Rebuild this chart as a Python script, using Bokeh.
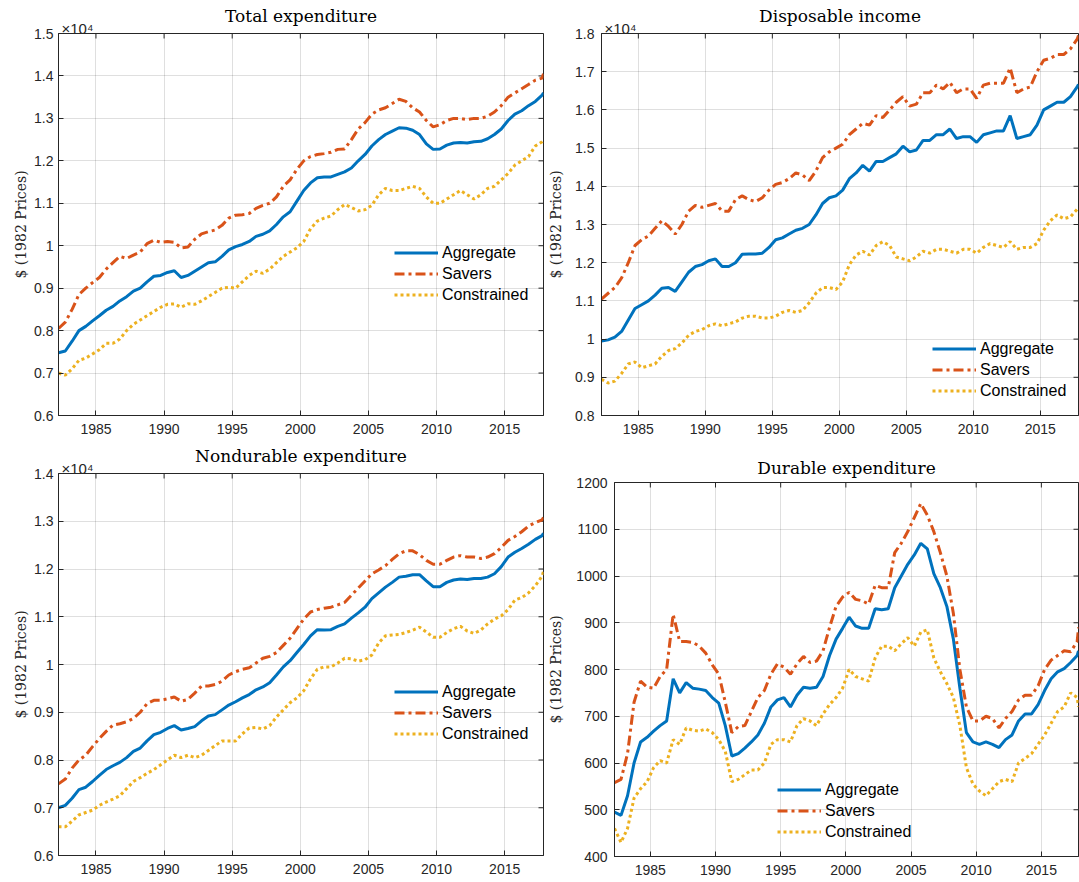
import math

from bokeh.plotting import figure
from bokeh.layouts import column, row
from bokeh.models import Range1d, FixedTicker, Title, CustomJSTickFormatter
from bokeh.embed import file_html
from bokeh.resources import INLINE

# Half-yearly observation dates (last point is the final quarter of 2017)
dates = [1982.25 + 0.5 * k for k in range(72)] + [2017.85]

# Total expenditure, in units of 10^4 dollars (1982 prices)
total_agg = [0.748, 0.752, 0.775, 0.800, 0.810, 0.823, 0.835, 0.848, 0.857, 0.870,
             0.880, 0.893, 0.900, 0.915, 0.928, 0.930, 0.937, 0.941, 0.925, 0.930,
             0.940, 0.950, 0.960, 0.962, 0.975, 0.990, 0.998, 1.003, 1.010, 1.022,
             1.027, 1.035, 1.050, 1.068, 1.080, 1.105, 1.130, 1.148, 1.160, 1.162,
             1.162, 1.168, 1.174, 1.183, 1.200, 1.215, 1.235, 1.250, 1.262, 1.270,
             1.278, 1.277, 1.272, 1.262, 1.240, 1.227, 1.228, 1.237, 1.242, 1.243,
             1.242, 1.245, 1.246, 1.252, 1.262, 1.275, 1.295, 1.310, 1.318, 1.330,
             1.340, 1.355, 1.360]
total_sav = [0.805, 0.820, 0.850, 0.885, 0.900, 0.913, 0.925, 0.945, 0.960, 0.975,
             0.970, 0.978, 0.985, 1.005, 1.013, 1.008, 1.010, 1.008, 0.995, 0.997,
             1.015, 1.028, 1.033, 1.037, 1.048, 1.065, 1.072, 1.073, 1.076, 1.088,
             1.095, 1.100, 1.115, 1.140, 1.155, 1.180, 1.200, 1.210, 1.215, 1.217,
             1.220, 1.227, 1.228, 1.250, 1.275, 1.290, 1.310, 1.320, 1.325, 1.335,
             1.345, 1.340, 1.325, 1.315, 1.295, 1.280, 1.285, 1.295, 1.300, 1.300,
             1.297, 1.300, 1.300, 1.305, 1.315, 1.330, 1.350, 1.360, 1.370, 1.380,
             1.390, 1.395, 1.405]
total_con = [0.700, 0.695, 0.710, 0.730, 0.735, 0.745, 0.755, 0.770, 0.770, 0.780,
             0.800, 0.815, 0.825, 0.835, 0.845, 0.855, 0.862, 0.863, 0.855, 0.863,
             0.862, 0.870, 0.880, 0.890, 0.900, 0.902, 0.900, 0.915, 0.930, 0.940,
             0.935, 0.945, 0.960, 0.975, 0.985, 0.995, 1.010, 1.040, 1.058, 1.065,
             1.070, 1.085, 1.097, 1.090, 1.082, 1.085, 1.095, 1.120, 1.135, 1.130,
             1.130, 1.135, 1.140, 1.135, 1.115, 1.100, 1.100, 1.110, 1.120, 1.130,
             1.120, 1.110, 1.120, 1.135, 1.140, 1.155, 1.170, 1.190, 1.200, 1.210,
             1.235, 1.245, 1.250]

# Disposable income, in units of 10^4 dollars (1982 prices)
income_agg = [0.995, 0.998, 1.005, 1.020, 1.050, 1.080, 1.090, 1.100, 1.115, 1.133,
              1.135, 1.125, 1.150, 1.175, 1.190, 1.195, 1.205, 1.210, 1.190, 1.190,
              1.200, 1.222, 1.223, 1.223, 1.225, 1.240, 1.260, 1.265, 1.275, 1.285,
              1.290, 1.300, 1.325, 1.355, 1.370, 1.375, 1.390, 1.420, 1.435, 1.455,
              1.440, 1.465, 1.465, 1.475, 1.485, 1.505, 1.490, 1.495, 1.520, 1.520,
              1.535, 1.535, 1.550, 1.525, 1.530, 1.530, 1.515, 1.535, 1.540, 1.545,
              1.545, 1.585, 1.525, 1.530, 1.535, 1.560, 1.600, 1.610, 1.620, 1.620,
              1.635, 1.660, 1.667]
income_sav = [1.105, 1.120, 1.135, 1.160, 1.200, 1.245, 1.260, 1.270, 1.290, 1.310,
              1.295, 1.275, 1.300, 1.335, 1.350, 1.345, 1.350, 1.355, 1.335, 1.335,
              1.365, 1.375, 1.365, 1.360, 1.370, 1.390, 1.405, 1.410, 1.420, 1.435,
              1.430, 1.415, 1.440, 1.475, 1.490, 1.500, 1.510, 1.535, 1.550, 1.565,
              1.560, 1.585, 1.580, 1.600, 1.620, 1.635, 1.610, 1.615, 1.645, 1.645,
              1.665, 1.655, 1.672, 1.645, 1.655, 1.655, 1.630, 1.665, 1.670, 1.670,
              1.670, 1.710, 1.645, 1.655, 1.660, 1.700, 1.730, 1.735, 1.745, 1.745,
              1.760, 1.785, 1.795]
income_con = [0.895, 0.885, 0.890, 0.910, 0.935, 0.940, 0.925, 0.930, 0.935, 0.955,
              0.970, 0.975, 0.990, 1.010, 1.020, 1.025, 1.035, 1.040, 1.035, 1.040,
              1.045, 1.055, 1.060, 1.060, 1.055, 1.055, 1.060, 1.070, 1.075, 1.070,
              1.075, 1.095, 1.120, 1.135, 1.135, 1.130, 1.150, 1.195, 1.220, 1.230,
              1.220, 1.245, 1.255, 1.245, 1.215, 1.210, 1.205, 1.215, 1.230, 1.225,
              1.235, 1.235, 1.230, 1.225, 1.235, 1.235, 1.225, 1.240, 1.250, 1.245,
              1.240, 1.255, 1.235, 1.240, 1.240, 1.250, 1.285, 1.310, 1.325, 1.315,
              1.320, 1.340, 1.345]

# Nondurable expenditure, in units of 10^4 dollars (1982 prices)
nondur_agg = [0.700, 0.705, 0.720, 0.738, 0.743, 0.755, 0.768, 0.780, 0.788, 0.795,
              0.805, 0.818, 0.825, 0.840, 0.853, 0.858, 0.866, 0.872, 0.863, 0.866,
              0.870, 0.882, 0.892, 0.895, 0.905, 0.915, 0.922, 0.930, 0.937, 0.947,
              0.953, 0.962, 0.978, 0.995, 1.008, 1.025, 1.042, 1.060, 1.073, 1.072,
              1.073, 1.080, 1.085, 1.097, 1.108, 1.120, 1.138, 1.150, 1.162, 1.172,
              1.183, 1.185, 1.188, 1.188, 1.175, 1.163, 1.163, 1.172, 1.177, 1.179,
              1.178, 1.180, 1.180, 1.183, 1.190, 1.205, 1.225, 1.235, 1.243, 1.252,
              1.262, 1.270, 1.275]
nondur_sav = [0.750, 0.760, 0.783, 0.800, 0.810, 0.828, 0.845, 0.860, 0.873, 0.876,
              0.880, 0.887, 0.900, 0.918, 0.925, 0.925, 0.928, 0.932, 0.923, 0.927,
              0.940, 0.955, 0.955, 0.958, 0.965, 0.978, 0.985, 0.990, 0.993, 1.003,
              1.013, 1.017, 1.025, 1.040, 1.055, 1.075, 1.095, 1.110, 1.115, 1.118,
              1.120, 1.125, 1.130, 1.145, 1.160, 1.175, 1.190, 1.198, 1.207, 1.220,
              1.232, 1.238, 1.238, 1.230, 1.218, 1.210, 1.210, 1.218, 1.225, 1.228,
              1.225, 1.225, 1.222, 1.225, 1.232, 1.245, 1.260, 1.268, 1.278, 1.290,
              1.297, 1.303, 1.308]
nondur_con = [0.660, 0.660, 0.672, 0.685, 0.690, 0.695, 0.705, 0.712, 0.718, 0.725,
              0.740, 0.755, 0.763, 0.772, 0.780, 0.790, 0.800, 0.810, 0.805, 0.810,
              0.805, 0.810, 0.820, 0.830, 0.840, 0.840, 0.840, 0.855, 0.867, 0.868,
              0.865, 0.872, 0.890, 0.905, 0.920, 0.930, 0.945, 0.970, 0.990, 0.995,
              0.995, 1.003, 1.013, 1.012, 1.007, 1.010, 1.020, 1.045, 1.060, 1.062,
              1.063, 1.067, 1.072, 1.078, 1.068, 1.057, 1.057, 1.067, 1.075, 1.080,
              1.070, 1.065, 1.072, 1.085, 1.095, 1.102, 1.115, 1.135, 1.140, 1.150,
              1.165, 1.185, 1.195]

# Durable expenditure, dollars (1982 prices)
durable_agg = [495, 488, 530, 600, 645, 655, 668, 680, 690, 780,
               750, 772, 760, 758, 755, 740, 728, 680, 615, 620,
               632, 645, 660, 685, 720, 735, 740, 720, 745, 762,
               760, 762, 785, 830, 865, 888, 912, 893, 888, 888,
               930, 928, 930, 975, 1000, 1025, 1045, 1070, 1058, 1005,
               975, 935, 865, 760, 665, 645, 640, 645, 640, 633,
               650, 660, 690, 705, 705, 725, 755, 780, 795, 802,
               815, 830, 840]
durable_sav = [558, 565, 620, 730, 775, 762, 760, 785, 800, 918,
               860, 860, 858, 850, 835, 810, 790, 730, 665, 678,
               680, 710, 740, 755, 790, 812, 805, 790, 812, 828,
               815, 818, 840, 890, 935, 955, 965, 950, 947, 940,
               980, 975, 975, 1050, 1070, 1095, 1125, 1155, 1130, 1095,
               1050, 1000, 920, 800, 720, 690, 690, 700, 695, 675,
               695, 710, 735, 745, 745, 765, 800, 820, 830, 840,
               838, 860, 890]
durable_con = [460, 430, 460, 525, 545, 560, 590, 605, 600, 650,
               640, 675, 670, 668, 673, 665, 650, 625, 560, 565,
               575, 585, 585, 600, 640, 650, 650, 645, 680, 695,
               690, 680, 705, 725, 740, 760, 800, 785, 780, 775,
               825, 850, 850, 840, 855, 868, 850, 880, 885, 825,
               795, 770, 740, 680, 590, 555, 540, 530, 545, 560,
               565, 560, 600, 610, 620, 640, 660, 685, 710, 720,
               750, 740, 720]

year_ticks = [1985, 1990, 1995, 2000, 2005, 2010, 2015]
series_names = ["Aggregate", "Savers", "Constrained"]

BLUE, ORANGE, YELLOW = "#0072BD", "#D95319", "#EDB120"
INK = "#262626"
SANS = "Liberation Sans"
SERIF = "DejaVu Serif"


def style_axis(ax, ticks, standoff):
    ax.ticker = FixedTicker(ticks=ticks)
    ax.axis_line_color = INK
    ax.axis_line_width = 1
    ax.major_tick_in = 5
    ax.major_tick_out = 0
    ax.major_tick_line_color = INK
    ax.minor_tick_line_color = None
    ax.major_label_text_font = SANS
    ax.major_label_text_color = INK
    ax.major_label_text_font_size = "14px"
    ax.major_label_standoff = standoff


def make_panel(title, agg, sav, con, y_lo, y_hi, y_step, scaled,
               width, height, borders, legend_xy, ystandoff, label_standoff):
    left, right, top, bottom = borders
    p = figure(width=width, height=height, output_backend="svg", toolbar_location=None,
               x_range=Range1d(dates[0], dates[-1]), y_range=Range1d(y_lo, y_hi),
               min_border_left=left, min_border_right=right,
               min_border_top=top, min_border_bottom=bottom)
    p.outline_line_color = INK
    p.outline_line_alpha = 1
    p.background_fill_color = "white"
    p.border_fill_color = "white"

    n_ticks = int(round((y_hi - y_lo) / y_step)) + 1
    yticks = [round(y_lo + k * y_step, 6) for k in range(n_ticks)]

    style_axis(p.xaxis[0], year_ticks, 8)
    style_axis(p.yaxis[0], yticks, ystandoff)
    p.yaxis[0].axis_label = "$ (1982 Prices)"
    p.yaxis[0].axis_label_text_font = SERIF
    p.yaxis[0].axis_label_text_font_size = "14px"
    p.yaxis[0].axis_label_text_font_style = "normal"
    p.yaxis[0].axis_label_text_color = INK
    p.yaxis[0].axis_label_standoff = label_standoff
    if scaled:
        p.yaxis[0].formatter = CustomJSTickFormatter(
            code="return (Math.round(tick * 10) / 10).toString();")

    p.xgrid.ticker = FixedTicker(ticks=year_ticks)
    p.ygrid.ticker = FixedTicker(ticks=yticks)
    for g in (p.xgrid, p.ygrid):
        g.grid_line_color = INK
        g.grid_line_alpha = 0.15
        g.grid_line_width = 1

    # inward tick marks on the top and right edges of the box (half of each
    # dash marker falls outside the frame and is clipped away)
    x_end = p.x_range.end
    p.scatter(year_ticks, [y_hi] * len(year_ticks), marker="dash", angle=math.pi / 2,
              size=10, line_color=INK, line_width=1)
    p.scatter([x_end] * len(yticks), yticks, marker="dash",
              size=10, line_color=INK, line_width=1)

    # exponent of the y scale sits just above the top-left corner of the box,
    # the panel heading is centred above it
    if scaled:
        p.add_layout(Title(text="\u00d710\u2074", align="left", offset=3, standoff=-6,
                           text_font=SANS, text_font_size="15px",
                           text_font_style="normal", text_color=INK), "above")
        head_standoff = -10
    else:
        head_standoff = 9
    p.add_layout(Title(text=title, align="center", standoff=head_standoff,
                       text_font=SERIF, text_font_size="17px",
                       text_font_style="normal", text_color="black"), "above")

    p.line(dates, agg, line_color=BLUE, line_width=3, legend_label=series_names[0])
    p.line(dates, sav, line_color=ORANGE, line_width=3, line_dash="10 4 3 4",
           legend_label=series_names[1])
    p.line(dates, con, line_color=YELLOW, line_width=3, line_dash="3 3",
           legend_label=series_names[2])

    lg = p.legend[0]
    lg.location = legend_xy
    lg.border_line_color = None
    lg.background_fill_alpha = 0
    lg.padding = 0
    lg.margin = 0
    lg.spacing = 0
    lg.glyph_width = 44
    lg.glyph_height = 21
    lg.label_height = 21
    lg.label_standoff = 4
    lg.label_text_font = SANS
    lg.label_text_font_size = "16px"
    lg.label_text_color = "black"
    return p


p1 = make_panel("Total expenditure", total_agg, total_sav, total_con, 0.6, 1.5, 0.1, True,
                545, 441, (58, 2, 33, 26), (336, 110), 5, 2)
p2 = make_panel("Disposable income", income_agg, income_sav, income_con, 0.8, 1.8, 0.1, True,
                534, 441, (51, 1, 33, 26), (331, 14), 7, 8)
p3 = make_panel("Nondurable expenditure", nondur_agg, nondur_sav, nondur_con, 0.6, 1.4, 0.1, True,
                545, 441, (58, 2, 32, 27), (336, 111), 5, 2)
p4 = make_panel("Durable expenditure", durable_agg, durable_sav, durable_con, 400, 1200, 100, False,
                534, 441, (62, 1, 41, 26), (163, 14), 7, 9)

# each panel sits in its own column so the two lower boxes keep their own tops
layout = column(row(column(p1), column(p2)), row(column(p3), column(p4)))

with open("out.html", "w") as f:
    f.write(file_html(layout, INLINE))
